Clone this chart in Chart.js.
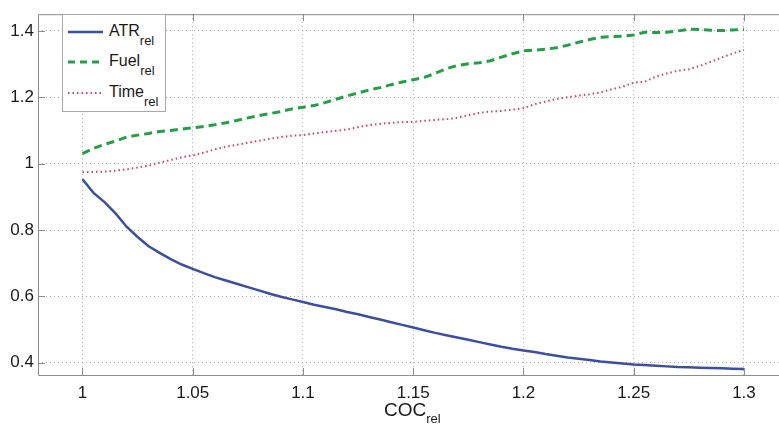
<!DOCTYPE html>
<html>
<head>
<meta charset="utf-8">
<script src="https://cdn.jsdelivr.net/npm/chart.js@4.4.1/dist/chart.umd.min.js"></script>
<style>
    html, body { margin: 0; padding: 0; background: #fff; }
    #wrap { position: relative; width: 779px; height: 428px; font-family: "Liberation Sans", Arial, sans-serif; color: #1a1a1a; }
    #legend { position: absolute; left: 62px; top: 14px; width: 104px; height: 98px; border: 1px solid #a9a9a9; background: #fff; box-sizing: border-box; }
    #legend svg { position: absolute; left: 5px; }
    #legend .lbl { position: absolute; left: 46px; font-size: 16px; line-height: 16px; white-space: nowrap; }
    .sub { font-size: 13px; position: relative; top: 9px; }
    #xtitle { position: absolute; left: 384px; top: 400px; font-size: 19px; line-height: 19px; white-space: nowrap; }
    #xtitle .sub { font-size: 13px; top: 7px; }
</style>
</head>
<body>
<div id="wrap">
    <canvas id="c" width="779" height="428"></canvas>
    <div id="legend">
        <svg style="top:12px" width="36" height="10"><line x1="0" y1="5" x2="35" y2="5" stroke="#3a4ea6" stroke-width="2.5"/></svg>
        <div class="lbl" style="top:8px">ATR<span class="sub">rel</span></div>
        <svg style="top:42px" width="36" height="10"><line x1="0" y1="5" x2="35" y2="5" stroke="#22a046" stroke-width="3" stroke-dasharray="7 5"/></svg>
        <div class="lbl" style="top:38px">Fuel<span class="sub">rel</span></div>
        <svg style="top:73px" width="36" height="10"><line x1="0" y1="5" x2="35" y2="5" stroke="#d8405e" stroke-width="2" stroke-dasharray="1.5 3"/></svg>
        <div class="lbl" style="top:69px">Time<span class="sub">rel</span></div>
    </div>
    <div id="xtitle">COC<span class="sub">rel</span></div>
</div>
<script>
// relative cost of operation (x) and the three relative measures
const coc = [];
for (let i = 0; i <= 60; i++) coc.push(+(1 + i * 0.005).toFixed(3));

const atrRel = [
    0.953, 0.912, 0.884, 0.850, 0.810, 0.779, 0.751, 0.731, 0.712, 0.696,
    0.683, 0.670, 0.658, 0.648, 0.638, 0.628, 0.618, 0.608, 0.599, 0.591,
    0.583, 0.575, 0.568, 0.561, 0.553, 0.546, 0.538, 0.530, 0.522, 0.514,
    0.506, 0.498, 0.490, 0.483, 0.476, 0.469, 0.462, 0.455, 0.448, 0.442,
    0.437, 0.432, 0.426, 0.421, 0.416, 0.412, 0.408, 0.404, 0.401, 0.398,
    0.395, 0.393, 0.391, 0.389, 0.387, 0.386, 0.385, 0.384, 0.383, 0.382,
    0.381
];
const fuelRel = [
    1.030, 1.046, 1.058, 1.068, 1.080, 1.086, 1.091, 1.097, 1.100, 1.104,
    1.108, 1.112, 1.117, 1.123, 1.130, 1.138, 1.145, 1.151, 1.157, 1.165,
    1.170, 1.175, 1.184, 1.194, 1.204, 1.213, 1.222, 1.229, 1.238, 1.246,
    1.253, 1.260, 1.272, 1.286, 1.296, 1.301, 1.304, 1.310, 1.321, 1.331,
    1.340, 1.342, 1.345, 1.349, 1.357, 1.366, 1.374, 1.381, 1.383, 1.384,
    1.388, 1.396, 1.395, 1.396, 1.400, 1.405, 1.404, 1.402, 1.401, 1.403,
    1.405
];
const timeRel = [
    0.974, 0.975, 0.976, 0.979, 0.983, 0.988, 0.994, 1.003, 1.011, 1.019,
    1.025, 1.033, 1.043, 1.051, 1.057, 1.063, 1.069, 1.075, 1.080, 1.084,
    1.086, 1.091, 1.095, 1.099, 1.103, 1.110, 1.116, 1.120, 1.123, 1.125,
    1.126, 1.129, 1.132, 1.134, 1.138, 1.146, 1.153, 1.157, 1.159, 1.163,
    1.167, 1.179, 1.187, 1.195, 1.200, 1.205, 1.209, 1.215, 1.224, 1.232,
    1.244, 1.247, 1.262, 1.272, 1.280, 1.284, 1.295, 1.307, 1.320, 1.332,
    1.343
];

const xTicks = [1, 1.05, 1.1, 1.15, 1.2, 1.25, 1.3];
const yTicks = [0.4, 0.6, 0.8, 1, 1.2, 1.4];

function toPoints(ys) {
    return ys.map((v, i) => ({ x: coc[i], y: v }));
}

// matlab style box with inward tick marks
const frame = {
    id: 'frame',
    beforeDatasetsDraw(chart) {
        const ctx = chart.ctx;
        const a = chart.chartArea;
        const sx = chart.scales.x, sy = chart.scales.y;
        ctx.save();
        ctx.strokeStyle = '#8c8c8c';
        ctx.lineWidth = 1;
        ctx.beginPath();
        ctx.moveTo(a.right + 1, a.top + 0.5);
        ctx.lineTo(a.left + 0.5, a.top + 0.5);
        ctx.lineTo(a.left + 0.5, a.bottom + 0.5);
        ctx.lineTo(a.right + 1, a.bottom + 0.5);
        xTicks.forEach(t => {
            const px = Math.round(sx.getPixelForValue(t)) + 0.5;
            ctx.moveTo(px, a.top); ctx.lineTo(px, a.top + 7);
            ctx.moveTo(px, a.bottom); ctx.lineTo(px, a.bottom - 7);
        });
        yTicks.forEach(t => {
            const py = Math.round(sy.getPixelForValue(t)) + 0.5;
            ctx.moveTo(a.left, py); ctx.lineTo(a.left + 7, py);
        });
        ctx.stroke();
        ctx.restore();
    }
};

const gridStyle = { color: 'rgba(140,140,140,0.75)', lineWidth: 1, drawTicks: false };

new Chart(document.getElementById('c').getContext('2d'), {
    type: 'line',
    data: {
        datasets: [
            { label: 'ATR', data: toPoints(atrRel), borderColor: '#3a4ea6', borderWidth: 2.5 },
            { label: 'Fuel', data: toPoints(fuelRel), borderColor: '#22a046', borderWidth: 3, borderDash: [8, 5] },
            { label: 'Time', data: toPoints(timeRel), borderColor: '#d8405e', borderWidth: 2, borderDash: [1.5, 3] }
        ]
    },
    options: {
        responsive: false,
        animation: false,
        devicePixelRatio: 1,
        elements: { point: { radius: 0 }, line: { tension: 0 } },
        layout: { padding: { top: 8, right: 0, left: 0, bottom: 0 } },
        plugins: { legend: { display: false }, tooltip: { enabled: false } },
        scales: {
            x: {
                type: 'linear',
                min: 0.97982,
                max: 1.3159,
                grid: gridStyle,
                border: { display: false, dash: [1, 3] },
                afterBuildTicks: axis => { axis.ticks = xTicks.map(v => ({ value: v })); },
                afterFit: scale => { scale.height = 53; },
                ticks: {
                    padding: 8,
                    color: '#1a1a1a',
                    font: { family: 'Liberation Sans', size: 17 },
                    maxRotation: 0,
                    autoSkip: false,
                    callback: v => String(+v.toFixed(2))
                }
            },
            y: {
                type: 'linear',
                min: 0.363,
                max: 1.4504,
                grid: gridStyle,
                border: { display: false, dash: [1, 3] },
                afterBuildTicks: axis => { axis.ticks = yTicks.map(v => ({ value: v })); },
                afterFit: scale => { scale.width = 38; },
                ticks: {
                    padding: 4,
                    color: '#1a1a1a',
                    font: { family: 'Liberation Sans', size: 17 },
                    callback: v => String(+v.toFixed(2))
                }
            }
        }
    },
    plugins: [frame]
});
</script>
</body>
</html>
